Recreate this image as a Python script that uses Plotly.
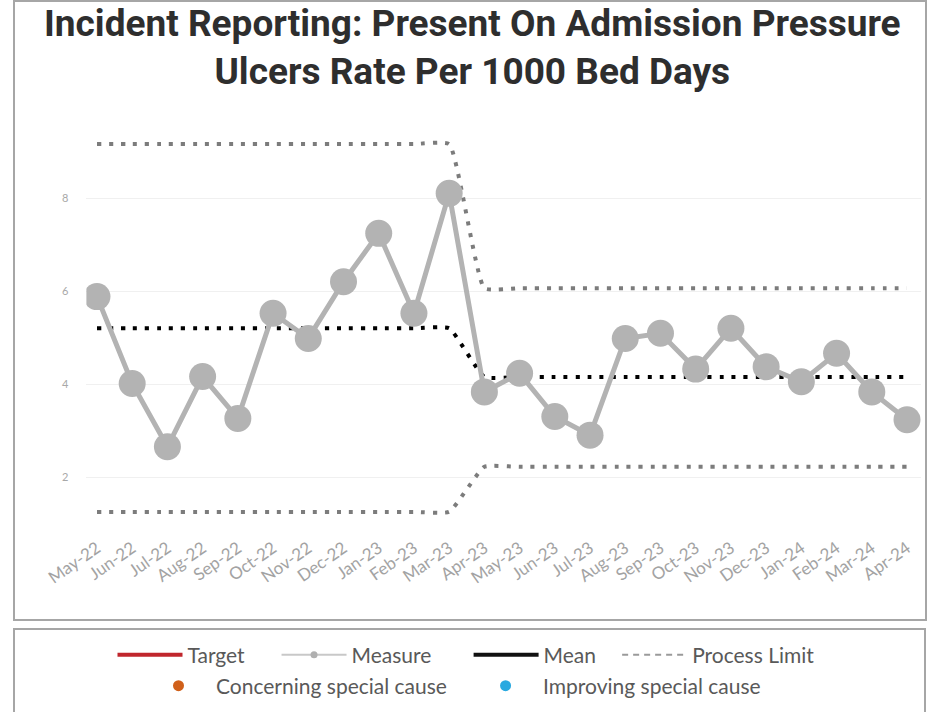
import plotly.graph_objects as go

# Monthly SPC chart: present-on-admission pressure ulcers per 1000 bed days
months = [
    "May-22", "Jun-22", "Jul-22", "Aug-22", "Sep-22", "Oct-22", "Nov-22", "Dec-22",
    "Jan-23", "Feb-23", "Mar-23", "Apr-23", "May-23", "Jun-23", "Jul-23", "Aug-23",
    "Sep-23", "Oct-23", "Nov-23", "Dec-23", "Jan-24", "Feb-24", "Mar-24", "Apr-24",
]
measure = [
    5.88, 4.01, 2.65, 4.16, 3.26, 5.52, 4.98, 6.20, 7.24, 5.52, 8.10, 3.83,
    4.23, 3.30, 2.90, 4.98, 5.09, 4.32, 5.20, 4.37, 4.05, 4.66, 3.83, 3.23,
]
mean = [
    5.20, 5.20, 5.20, 5.20, 5.20, 5.20, 5.20, 5.20, 5.20, 5.20, 5.20, 4.15,
    4.15, 4.15, 4.15, 4.15, 4.15, 4.15, 4.15, 4.15, 4.15, 4.15, 4.15, 4.15,
]
upper_limit = [
    9.16, 9.16, 9.16, 9.16, 9.16, 9.16, 9.16, 9.16, 9.16, 9.16, 9.16, 6.06,
    6.06, 6.06, 6.06, 6.06, 6.06, 6.06, 6.06, 6.06, 6.06, 6.06, 6.06, 6.06,
]
lower_limit = [
    1.25, 1.25, 1.25, 1.25, 1.25, 1.25, 1.25, 1.25, 1.25, 1.25, 1.25, 2.22,
    2.22, 2.22, 2.22, 2.22, 2.22, 2.22, 2.22, 2.22, 2.22, 2.22, 2.22, 2.22,
]
y_ticks = [2, 4, 6, 8]

W, H = 932, 712
GREY = "#b3b3b3"
LIMIT_GREY = "#7c7c7c"
DOTS = "4px,8px"
NB = "\u00a0"


def px_x(p):
    return p / W


def px_y(p):
    return 1 - p / H


fig = go.Figure()

for series in (upper_limit, lower_limit):
    fig.add_trace(go.Scatter(
        x=months, y=series, mode="lines", showlegend=False, hoverinfo="skip",
        line=dict(color=LIMIT_GREY, width=4, dash=DOTS, shape="spline", smoothing=0.4),
    ))

fig.add_trace(go.Scatter(
    x=months, y=mean, mode="lines", showlegend=False, hoverinfo="skip",
    line=dict(color="#000000", width=4, dash=DOTS, shape="spline", smoothing=0.4),
))

fig.add_trace(go.Scatter(
    x=months, y=measure, mode="lines+markers", showlegend=False, name="Measure",
    line=dict(color=GREY, width=5),
    marker=dict(color=GREY, size=27),
))

# Legend-only entries (trailing non-breaking spaces widen the gaps between items)
legend_row1 = [
    ("Target" + NB * 5, dict(color="#c0262d", width=4), None, "lines"),
    ("Measure" + NB * 6, dict(color="#c8c8c8", width=2), dict(color="#b0b0b0", size=7), "lines+markers"),
    ("Mean" + NB * 3, dict(color="#111111", width=4), None, "lines"),
    ("Process Limit", dict(color="#9a9a9a", width=2, dash="6px,5px"), None, "lines"),
]
for name, line, marker, mode in legend_row1:
    kw = dict(x=[None], y=[None], mode=mode, name=name, line=line, legend="legend")
    if marker:
        kw["marker"] = marker
    fig.add_trace(go.Scatter(**kw))

legend_row2 = [
    ("Concerning special cause" + NB * 3, "#d0601a"),
    ("Improving special cause", "#2aa9e0"),
]
for name, color in legend_row2:
    fig.add_trace(go.Scatter(
        x=[None], y=[None], mode="markers", name=name, legend="legend2",
        marker=dict(color=color, size=11),
    ))

# Outer frames around the chart and the legend
fig.add_shape(type="rect", xref="paper", yref="paper",
              x0=px_x(14), x1=px_x(926), y0=px_y(620), y1=px_y(1),
              line=dict(color="#a6a6a6", width=2), layer="below")
fig.add_shape(type="rect", xref="paper", yref="paper",
              x0=px_x(14), x1=px_x(925), y0=-0.1, y1=px_y(629),
              line=dict(color="#a6a6a6", width=2), layer="below")

fig.add_annotation(
    xref="paper", yref="paper", x=px_x(472), y=px_y(48),
    xanchor="center", yanchor="middle", showarrow=False,
    text="Incident Reporting: Present On Admission Pressure<br>Ulcers Rate Per 1000 Bed Days",
    font=dict(family="Roboto", size=37, color="#2e2e2e", weight="bold"),
)

y0_val, y1_val = 0.9, 9.8
fig.update_layout(
    width=W, height=H,
    margin=dict(l=0, r=0, t=0, b=0),
    paper_bgcolor="white", plot_bgcolor="white",
    xaxis=dict(
        domain=[px_x(86.4), px_x(921.1)], automargin=False,
        type="category", categoryorder="array", categoryarray=months,
        range=[-0.3, 23.4], showgrid=False, zeroline=False, showline=False,
        ticks="", tickangle=-35, ticklabelstandoff=6,
        tickfont=dict(family="Lato", size=17, color="#a3a3a3"),
    ),
    yaxis=dict(
        domain=[1 - (477 - (y0_val - 2) * 46.5) / H, 1 - (477 - (y1_val - 2) * 46.5) / H],
        automargin=False,
        range=[y0_val, y1_val], tickvals=y_ticks,
        showgrid=True, gridcolor="#f0f0f0", gridwidth=1,
        zeroline=False, showline=False, ticks="",
        ticklabelstandoff=17,
        tickfont=dict(family="Lato", size=11, color="#a8a8a8"),
    ),
    legend=dict(
        orientation="h", x=0.5, xanchor="center", y=px_y(655), yanchor="middle",
        itemwidth=65, bgcolor="rgba(0,0,0,0)",
        font=dict(family="Lato", size=21, color="#595959"),
    ),
    legend2=dict(
        orientation="h", x=px_x(453.5), xanchor="center", y=px_y(686), yanchor="middle",
        itemwidth=65, bgcolor="rgba(0,0,0,0)",
        font=dict(family="Lato", size=21, color="#595959"),
    ),
    showlegend=True,
)

fig.write_html("out.html")
